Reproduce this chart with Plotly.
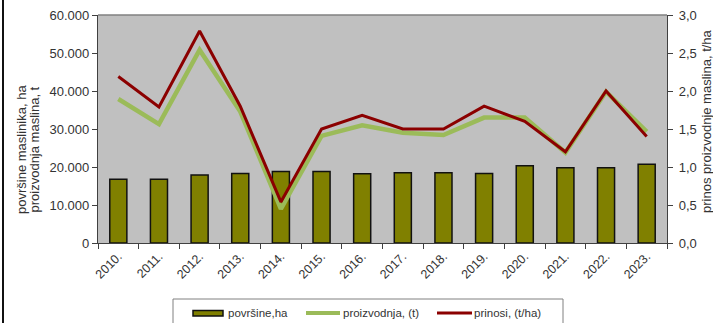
import plotly.graph_objects as go

# Olive growing: area (ha), production (t) and yield (t/ha) by year
godine = ["2010.", "2011.", "2012.", "2013.", "2014.", "2015.", "2016.",
          "2017.", "2018.", "2019.", "2020.", "2021.", "2022.", "2023."]
povrsine_ha = [16800, 16800, 17900, 18300, 18800, 18800, 18200,
               18500, 18500, 18300, 20300, 19800, 19800, 20700]
proizvodnja_t = [37900, 31300, 50800, 34600, 9000, 28200, 31000,
                 29000, 28400, 33000, 33000, 23800, 39800, 29300]
prinosi_t_ha = [2.19, 1.79, 2.79, 1.8, 0.54, 1.5, 1.68,
                1.5, 1.5, 1.8, 1.6, 1.2, 2.0, 1.4]

left_ticks = [0, 10000, 20000, 30000, 40000, 50000, 60000]
right_ticks = [0, 0.5, 1.0, 1.5, 2.0, 2.5, 3.0]

BAR_COLOR = "#808000"
GREEN = "#9bbb59"
RED = "#8b0000"
TEXT = "#333333"
AXIS = "#404040"
FONT = "Liberation Sans, Arial, sans-serif"

W, H = 713, 323
L, R, T, B = 98, 46, 15, 80
PW, PH = W - L - R, H - T - B


def px(x):
    return (x - L) / PW


def py(y):
    return (H - B - y) / PH


fig = go.Figure()
fig.add_trace(go.Bar(
    x=godine, y=povrsine_ha, name="površine,ha",
    marker=dict(color=BAR_COLOR, line=dict(color="#111111", width=1.5)),
    width=0.42, showlegend=False,
))
fig.add_trace(go.Scatter(
    x=godine, y=proizvodnja_t, name="proizvodnja, (t)", mode="lines",
    line=dict(color=GREEN, width=4.5), showlegend=False,
))
fig.add_trace(go.Scatter(
    x=godine, y=prinosi_t_ha, name="prinosi, (t/ha)", mode="lines",
    line=dict(color=RED, width=3), yaxis="y2", showlegend=False,
))

fig.update_layout(
    width=W, height=H,
    margin=dict(l=L, r=R, t=T, b=B, autoexpand=False),
    paper_bgcolor="white", plot_bgcolor="#c0c0c0",
    separators=",.",
    font=dict(family=FONT, size=13, color=TEXT),
    xaxis=dict(
        type="category", showgrid=False, showline=True, linecolor=AXIS,
        linewidth=1.2, ticks="outside", ticklen=5, tickcolor=AXIS,
        tickson="boundaries", tickangle=-45,
        tickfont=dict(size=12.5, color=TEXT), range=[-0.5, 13.5],
    ),
    yaxis=dict(
        range=[0, 60000], tickvals=left_ticks, tickformat=",.0f",
        showgrid=False, zeroline=False, showline=True, linecolor=AXIS,
        linewidth=1.2, ticks="outside", ticklen=5, tickcolor=AXIS,
        tickfont=dict(size=13, color=TEXT),
    ),
    yaxis2=dict(
        range=[0, 3], tickvals=right_ticks, tickformat=".1f",
        overlaying="y", side="right", showgrid=False, zeroline=False,
        showline=True, linecolor=AXIS, linewidth=1.2, ticks="outside",
        ticklen=5, tickcolor=AXIS, tickfont=dict(size=13, color=TEXT),
        ticklabelstandoff=3,
    ),
)

shapes = [
    # top edge of the plot area
    dict(type="line", xref="paper", yref="paper", x0=0, x1=1, y0=1, y1=1,
         line=dict(color="#808080", width=1.5)),
    # left frame edge
    dict(type="line", xref="paper", yref="paper", x0=px(3), x1=px(3),
         y0=py(H), y1=py(0), line=dict(color="#111111", width=2)),
    # legend box
    dict(type="rect", xref="paper", yref="paper", x0=px(173), x1=px(563),
         y0=py(335), y1=py(299), line=dict(color="#808080", width=1),
         fillcolor="white"),
    # legend swatches
    dict(type="rect", xref="paper", yref="paper", x0=px(193), x1=px(223),
         y0=py(316), y1=py(310.5), fillcolor=BAR_COLOR,
         line=dict(color="#111111", width=1.5)),
    dict(type="line", xref="paper", yref="paper", x0=px(306), x1=px(340),
         y0=py(313), y1=py(313), line=dict(color=GREEN, width=4)),
    dict(type="line", xref="paper", yref="paper", x0=px(437), x1=px(472),
         y0=py(313), y1=py(313), line=dict(color=RED, width=3)),
]
fig.update_layout(shapes=shapes)

annotations = [
    dict(text="površine maslinika, ha", x=px(21), y=py(150), textangle=-90),
    dict(text="proizvodnja maslina, t", x=px(33.5), y=py(150), textangle=-90),
    dict(text="prinos proizvodnje maslina, t/ha", x=px(706), y=py(121),
         textangle=-90),
]
for a in annotations:
    fig.add_annotation(xref="paper", yref="paper", showarrow=False,
                       xanchor="center", yanchor="middle",
                       font=dict(size=13, color=TEXT, family=FONT), **a)

for label, x0 in [("površine,ha", 226), ("proizvodnja, (t)", 341),
                  ("prinosi, (t/ha)", 472)]:
    fig.add_annotation(text=label, xref="paper", yref="paper", x=px(x0),
                       y=py(313), xanchor="left", yanchor="middle",
                       showarrow=False,
                       font=dict(size=11.5, color=TEXT, family=FONT))

fig.write_html("out.html")
